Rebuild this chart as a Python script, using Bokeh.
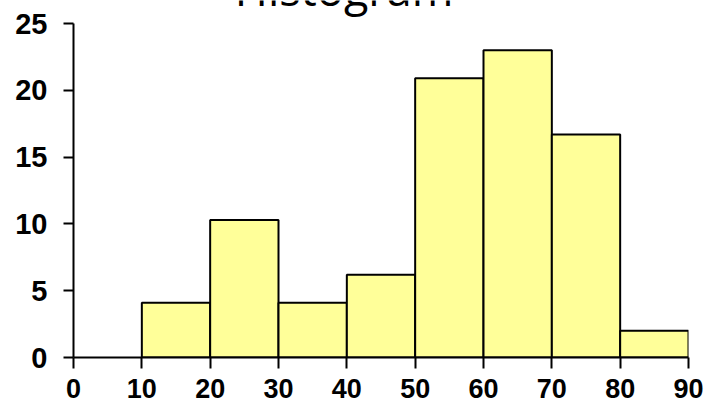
from bokeh.plotting import figure
from bokeh.models import Range1d, FixedTicker
from bokeh.core.properties import value
from bokeh.embed import file_html
from bokeh.resources import INLINE

# Histogram bins (left/right edges) and bar heights
bin_left = [10, 20, 30, 40, 50, 60, 70, 80]
bin_right = [20, 30, 40, 50, 60, 70, 80, 90]
heights = [4.1, 10.3, 4.1, 6.2, 20.9, 23.0, 16.7, 2.0]

x_ticks = [0, 10, 20, 30, 40, 50, 60, 70, 80, 90]
y_ticks = [0, 5, 10, 15, 20, 25]
title_text = "Histogram"

# The plotting area reaches the top of the canvas so the title can run off it;
# the y axis itself stops at the last tick.
FRAME_H = 357
PX_PER_UNIT = 334 / y_ticks[-1]
y_top = FRAME_H / PX_PER_UNIT

p = figure(
    frame_width=615, frame_height=FRAME_H,
    min_border_left=73, min_border_right=18,
    min_border_top=0, min_border_bottom=48,
    x_range=Range1d(x_ticks[0], x_ticks[-1]), y_range=Range1d(0, y_top),
    output_backend="svg", toolbar_location=None,
)
p.outline_line_color = None
p.xgrid.visible = False
p.ygrid.visible = False
p.background_fill_color = "white"
p.border_fill_color = "white"

p.quad(left=bin_left, right=bin_right, bottom=0, top=heights,
       fill_color="#FFFF99", line_color="black", line_width=2)

for ax, ticks, tick_out, standoff, size in ((p.xaxis[0], x_ticks, 11, 10, "27px"),
                                            (p.yaxis[0], y_ticks, 10, 16, "29px")):
    ax.ticker = FixedTicker(ticks=ticks)
    ax.minor_tick_line_color = None
    ax.major_tick_in = 0
    ax.major_tick_out = tick_out
    ax.major_tick_line_width = 2
    ax.major_tick_line_color = "black"
    ax.axis_line_width = 2
    ax.axis_line_color = "black"
    ax.major_label_text_font = "Liberation Sans"
    ax.major_label_text_font_style = "bold"
    ax.major_label_text_font_size = size
    ax.major_label_text_color = "black"
    ax.major_label_standoff = standoff
p.yaxis[0].bounds = (y_ticks[0], y_ticks[-1])

# Title: baseline a few pixels below the canvas top, upper part cut by the edge
title_x = 39.6
title_y = y_top - 6.5 / PX_PER_UNIT
p.text(x=[title_x], y=[title_y], text=[title_text], y_offset=-18.5,
       text_font=value("Open Sans"), text_font_size="45px",
       text_color="black", text_align="center", text_baseline="alphabetic")

open("out.html", "w").write(file_html(p, INLINE))
